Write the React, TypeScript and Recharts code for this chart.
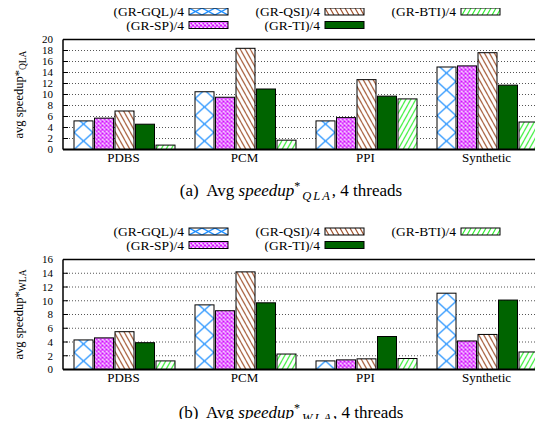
import React from 'react'
import { Bar, BarChart, CartesianGrid, Legend, ReferenceLine, XAxis, YAxis } from 'recharts'

const categories = ['PDBS', 'PCM', 'PPI', 'Synthetic']
const seriesKeys = ['gql', 'sp', 'qsi', 'ti', 'bti']
const seriesNames = ['(GR-GQL)/4', '(GR-SP)/4', '(GR-QSI)/4', '(GR-TI)/4', '(GR-BTI)/4']

// (a) QLA, 4 threads
const qlaGQL = [5.2, 10.5, 5.2, 15.0]
const qlaSP = [5.7, 9.5, 5.8, 15.2]
const qlaQSI = [7.0, 18.4, 12.7, 17.6]
const qlaTI = [4.6, 11.0, 9.7, 11.7]
const qlaBTI = [0.8, 1.7, 9.2, 5.0]
const qlaTicks = [0, 2, 4, 6, 8, 10, 12, 14, 16, 18, 20]

// (b) WLA, 4 threads
const wlaGQL = [4.3, 9.4, 1.25, 11.1]
const wlaSP = [4.6, 8.55, 1.4, 4.15]
const wlaQSI = [5.5, 14.2, 1.55, 5.1]
const wlaTI = [3.9, 9.7, 4.8, 10.1]
const wlaBTI = [1.25, 2.25, 1.6, 2.55]
const wlaTicks = [0, 2, 4, 6, 8, 10, 12, 14, 16]

const FONT = "'Liberation Serif', 'Times New Roman', Times, serif"

function buildRows(cols: number[][]) {
  return categories.map((name, i) => {
    const row: any = { name }
    seriesKeys.forEach((k, j) => (row[k] = cols[j][i]))
    return row
  })
}

const qlaRows = buildRows([qlaGQL, qlaSP, qlaQSI, qlaTI, qlaBTI])
const wlaRows = buildRows([wlaGQL, wlaSP, wlaQSI, wlaTI, wlaBTI])

// hatch patterns, anchored at (x, y) so each bar gets its own alignment
function makePattern(kind: string, id: string, x: number, y: number, w: number, h: number) {
  if (kind === 'gql') {
    return (
      <pattern id={id} patternUnits="userSpaceOnUse" x={x} y={y} width={w} height={h}>
        <rect width={w} height={h} fill="#fff" />
        <path d={`M0,0 L${w},${h} M${w},0 L0,${h}`} stroke="#1e8fff" strokeWidth={1.3} />
      </pattern>
    )
  }
  if (kind === 'sp') {
    return (
      <pattern id={id} patternUnits="userSpaceOnUse" x={x} y={y} width={4} height={4}>
        <rect width={4} height={4} fill="#fff" />
        <path d="M0,0 L4,4 M4,0 L0,4" stroke="#d000ff" strokeWidth={1.1} />
      </pattern>
    )
  }
  if (kind === 'qsi' || kind === 'bti') {
    const color = kind === 'qsi' ? '#a0522d' : '#33f033'
    const pw = 5
    const ph = 9
    const d =
      kind === 'qsi'
        ? `M0,0 L${pw},${ph} M${-pw},0 L0,${ph} M${pw},0 L${2 * pw},${ph}`
        : `M0,${ph} L${pw},0 M${-pw},${ph} L0,0 M${pw},${ph} L${2 * pw},0`
    return (
      <pattern id={id} patternUnits="userSpaceOnUse" x={x} y={y} width={pw} height={ph}>
        <rect width={pw} height={ph} fill="#fff" />
        <path d={d} stroke={color} strokeWidth={1.1} />
      </pattern>
    )
  }
  return null
}

function fillFor(kind: string, id: string) {
  return kind === 'ti' ? '#006400' : `url(#${id})`
}

function PatternBar(props: any) {
  const { x, y, width, height, kind, uid, index } = props
  if (!height || height <= 0) return null
  const pid = `${uid}-${kind}-${index}`
  return (
    <g>
      <defs>{makePattern(kind, pid, x, y + height, width, 17)}</defs>
      <rect x={x} y={y} width={width} height={height} fill={fillFor(kind, pid)} stroke="#000" strokeWidth={1} />
    </g>
  )
}

function LegendBox({ payload, uid }: any) {
  const items = [...(payload || [])].sort(
    (a: any, b: any) => seriesKeys.indexOf(a.dataKey) - seriesKeys.indexOf(b.dataKey)
  )
  return (
    <svg width={543} height={32}>
      {items.map((it: any, i: number) => {
        const kind = it.dataKey
        const col = Math.floor(i / 2)
        const row = i % 2
        const sx = 189 + col * 136
        const cy = 11.5 + row * 13.5
        const pid = `${uid}-lg-${kind}`
        return (
          <g key={kind}>
            <defs>{makePattern(kind, pid, sx, cy - 3.5, 13, 7)}</defs>
            <text x={sx - 5} y={cy + 4.5} textAnchor="end" fontFamily={FONT} fontSize={13.5} fill="#000">
              {it.value}
            </text>
            <rect x={sx} y={cy - 3.5} width={39} height={7} fill={fillFor(kind, pid)} stroke="#000" strokeWidth={1} />
          </g>
        )
      })}
    </svg>
  )
}

function YTick({ x, y, payload }: any) {
  return (
    <g>
      <line x1={x + 10} x2={x + 15} y1={y} y2={y} stroke="#000" strokeWidth={1} />
      <text x={x} y={y} dy={3.8} textAnchor="end" fontFamily={FONT} fontSize={11} fill="#000">
        {payload.value}
      </text>
    </g>
  )
}

function AxisTitle({ viewBox, sub }: any) {
  const cx = 23
  const cy = viewBox.y + viewBox.height / 2
  return (
    <text
      x={cx}
      y={cy}
      transform={`rotate(-90 ${cx} ${cy})`}
      textAnchor="middle"
      fontFamily={FONT}
      fontSize={12.5}
      fill="#000"
    >
      avg speedup*
      <tspan fontSize={9.5} dy={3}>
        {sub}
      </tspan>
    </text>
  )
}

function SpeedupChart({ rows, ticks, uid, sub }: any) {
  const max = ticks[ticks.length - 1]
  return (
    <BarChart
      width={560}
      height={170}
      data={rows}
      margin={{ top: 39.5, right: 13, bottom: 0.5, left: 0 }}
      barCategoryGap={11}
      barGap={1.5}
    >
      <CartesianGrid vertical={false} stroke="#555" strokeDasharray="1 2" />
      <XAxis
        dataKey="name"
        height={20}
        tickLine={false}
        tickSize={2}
        tickMargin={1}
        axisLine={{ stroke: '#000', strokeWidth: 2 }}
        tick={{ fontFamily: FONT, fontSize: 13, fill: '#000' }}
      />
      <YAxis
        width={63}
        domain={[0, max]}
        ticks={ticks}
        interval={0}
        tickLine={false}
        tickSize={0}
        tickMargin={10}
        axisLine={{ stroke: '#000', strokeWidth: 1.5 }}
        tick={<YTick />}
        label={<AxisTitle sub={sub} />}
      />
      <ReferenceLine y={max} stroke="#000" strokeWidth={1.5} />
      <Legend
        verticalAlign="middle"
        align="center"
        layout="horizontal"
        wrapperStyle={{ top: 0, left: 0, width: 543, height: 32 }}
        content={(p: any) => <LegendBox payload={p.payload} uid={uid} />}
      />
      {seriesKeys.map((k, i) => (
        <Bar
          key={k}
          dataKey={k}
          name={seriesNames[i]}
          fill={k === 'ti' ? '#006400' : '#fff'}
          stroke="#000"
          isAnimationActive={false}
          shape={(p: any) => <PatternBar {...p} kind={k} uid={uid} />}
        />
      ))}
    </BarChart>
  )
}

function Caption({ top, tag, sub }: any) {
  return (
    <div
      style={{
        position: 'absolute',
        left: 0,
        width: 582,
        top,
        textAlign: 'center',
        fontFamily: FONT,
        fontSize: 17,
        lineHeight: '20px',
        whiteSpace: 'nowrap',
      }}
    >
      ({tag})&nbsp; Avg <i>speedup</i>
      <span style={{ position: 'relative', top: -6, fontSize: 12 }}>*</span>
      <i style={{ position: 'relative', top: 4, fontSize: 12.5, letterSpacing: 2, marginLeft: 2 }}>{sub}</i>, 4 threads
    </div>
  )
}

export default function App() {
  return (
    <div style={{ position: 'relative', width: 543, height: 427, margin: -8, overflow: 'hidden', background: '#fff' }}>
      <div style={{ position: 'absolute', left: 0, top: 0 }}>
        <SpeedupChart rows={qlaRows} ticks={qlaTicks} uid="qla" sub="QLA" />
      </div>
      <Caption top={181} tag="a" sub="QLA" />
      <div style={{ position: 'absolute', left: 0, top: 219.5 }}>
        <SpeedupChart rows={wlaRows} ticks={wlaTicks} uid="wla" sub="WLA" />
      </div>
      <Caption top={403} tag="b" sub="WLA" />
    </div>
  )
}
